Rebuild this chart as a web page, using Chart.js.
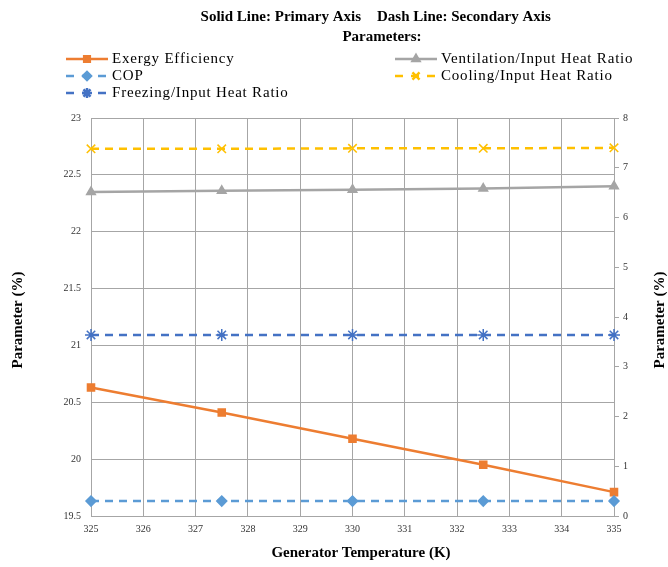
<!DOCTYPE html>
<html lang="en">
<head>
<meta charset="UTF-8">
<title>Parâmetros x Temperatura do Gerador</title>
<script src="https://cdn.jsdelivr.net/npm/chart.js"></script>
<style>
  html, body { margin: 0; padding: 0; background: #fff; }
</style>
</head>
<body>
<canvas id="grafico" width="668" height="567"></canvas>
<script>
  // dados
  const temperaturas = [325, 327.5, 330, 332.5, 335];
  const exergia = [20.63, 20.41, 20.18, 19.95, 19.71];
  const ventilacao = [22.35, 22.36, 22.37, 22.38, 22.40];
  const cop = [0.30, 0.30, 0.30, 0.30, 0.30];
  const resfriamento = [7.38, 7.38, 7.39, 7.39, 7.40];
  const congelamento = [3.64, 3.64, 3.64, 3.64, 3.64];

  const nomes = ['Exergy Efficiency', 'Ventilation/Input Heat Ratio', 'COP',
    'Cooling/Input Heat Ratio', 'Freezing/Input Heat Ratio'];

  const SERIF = '"Liberation Serif", "Times New Roman", serif';
  const GRADE = '#a6a6a6';

  function pontos(valores) {
    var lista = [];
    for (var i = 0; i < valores.length; i++) {
      lista.push({ x: temperaturas[i], y: valores[i] });
    }
    return lista;
  }

  function serie(nome, valores, cor, estilo, raio, eixo, tracejado) {
    return {
      label: nome,
      data: pontos(valores),
      yAxisID: eixo,
      borderColor: cor,
      backgroundColor: cor,
      pointBackgroundColor: cor,
      pointBorderColor: cor,
      pointStyle: estilo,
      pointRadius: raio,
      pointHoverRadius: raio,
      pointBorderWidth: 1.5,
      borderWidth: 2.5,
      borderDash: tracejado ? [8, 6] : [],
      tension: 0,
      clip: false
    };
  }

  // ordem: os primeiros ficam por cima
  const datasets = [
    serie(nomes[2], cop, '#5b9bd5', 'rectRot', 5, 'y2', true),
    serie(nomes[4], congelamento, '#4472c4', 'star', 6, 'y2', true),
    serie(nomes[3], resfriamento, '#ffc000', 'crossRot', 6, 'y2', true),
    serie(nomes[1], ventilacao, '#a5a5a5', 'triangle', 5, 'y', false),
    serie(nomes[0], exergia, '#ed7d31', 'rect', 5, 'y', false)
  ];

  // posicao da legenda: [nome, x da linha, y]
  const legenda = [
    [nomes[0], 66, 59], [nomes[2], 66, 76], [nomes[4], 66, 93],
    [nomes[1], 395, 59], [nomes[3], 395, 76]
  ];

  const textos = {
    id: 'textos',
    afterDraw(chart) {
      const ctx = chart.ctx;
      ctx.save();
      ctx.fillStyle = '#000';
      ctx.textBaseline = 'middle';

      ctx.font = 'bold 15px ' + SERIF;
      ctx.textAlign = 'right';
      ctx.fillText('Solid Line: Primary Axis', 361, 17);
      ctx.textAlign = 'left';
      ctx.fillText('Dash Line: Secondary Axis', 377, 17);
      ctx.textAlign = 'center';
      ctx.fillText('Parameters:', 382, 37);

      // legenda
      for (var i = 0; i < legenda.length; i++) {
        const item = legenda[i];
        const ds = chart.data.datasets.find(d => d.label === item[0]);
        const x = item[1], y = item[2];
        ctx.save();
        ctx.strokeStyle = ds.borderColor;
        ctx.lineWidth = 2.5;
        ctx.setLineDash(ds.borderDash.length ? [8, 8] : []);
        ctx.beginPath();
        ctx.moveTo(x, y);
        ctx.lineTo(x + 42, y);
        ctx.stroke();
        ctx.setLineDash([]);
        ctx.fillStyle = ds.backgroundColor;
        Chart.helpers.drawPoint(ctx, {
          pointStyle: ds.pointStyle,
          radius: ds.pointRadius - 1,
          rotation: 0,
          borderWidth: 1.2
        }, x + 21, y);
        ctx.restore();

        ctx.font = '15px ' + SERIF;
        ctx.letterSpacing = '0.8px';
        ctx.textAlign = 'left';
        ctx.fillStyle = '#000';
        ctx.fillText(item[0], x + 46, y);
        ctx.letterSpacing = '0px';
      }

      // titulos dos eixos
      ctx.font = 'bold 15px ' + SERIF;
      ctx.textAlign = 'center';
      ctx.fillText('Generator Temperature (K)', 361, 553);

      ctx.save();
      ctx.translate(18, 320);
      ctx.rotate(-Math.PI / 2);
      ctx.fillText('Parameter (%)', 0, 0);
      ctx.restore();

      ctx.save();
      ctx.translate(660, 320);
      ctx.rotate(-Math.PI / 2);
      ctx.fillText('Parameter (%)', 0, 0);
      ctx.restore();

      ctx.restore();
    }
  };

  const fonteTick = { family: SERIF, size: 10 };
  const semZeros = v => String(Number(v));

  const config = {
    type: 'line',
    data: { datasets: datasets },
    options: {
      responsive: false,
      animation: false,
      layout: { padding: { top: 118, left: 0, right: 0, bottom: 0 } },
      plugins: {
        legend: { display: false },
        title: { display: false },
        tooltip: { enabled: false }
      },
      scales: {
        x: {
          type: 'linear',
          min: 325,
          max: 335,
          ticks: { stepSize: 1, padding: 7, color: '#333', font: fonteTick, maxRotation: 0, callback: semZeros },
          grid: { color: GRADE, lineWidth: 1, drawTicks: false },
          border: { color: GRADE },
          afterFit(s) { s.height = 51; }
        },
        y: {
          position: 'left',
          min: 19.5,
          max: 23,
          ticks: { stepSize: 0.5, padding: 10, color: '#333', font: fonteTick, callback: semZeros },
          grid: { color: GRADE, lineWidth: 1, drawTicks: false },
          border: { color: GRADE },
          afterFit(s) { s.width = 91; }
        },
        y2: {
          position: 'right',
          min: 0,
          max: 8,
          ticks: { stepSize: 1, padding: 4, color: '#333', font: fonteTick, callback: semZeros },
          grid: { drawOnChartArea: false, color: GRADE, tickLength: 5 },
          border: { color: GRADE },
          afterFit(s) { s.width = 54; }
        }
      }
    },
    plugins: [textos]
  };

  let myChart = new Chart(document.getElementById('grafico'), config);
</script>
</body>
</html>
